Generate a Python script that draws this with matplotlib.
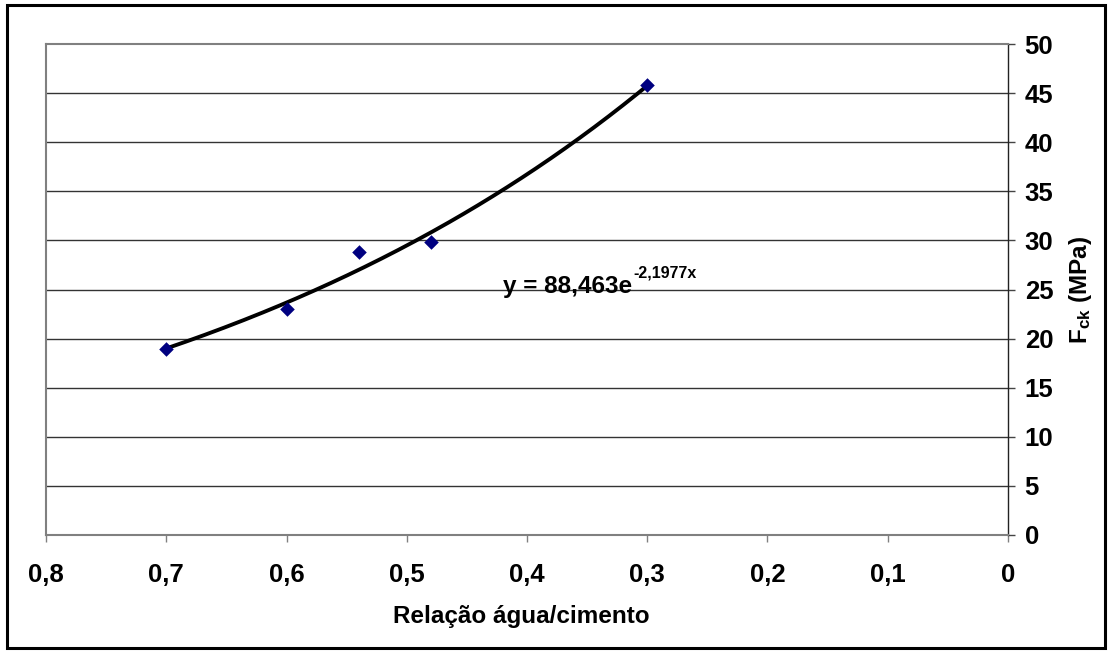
import numpy as np
import matplotlib
matplotlib.use("Agg")
import matplotlib.pyplot as plt
from matplotlib.patches import Rectangle

# Data
wc_ratio = [0.70, 0.60, 0.54, 0.48, 0.30]
fck = [18.9, 23.05, 28.8, 29.8, 45.8]
x_ticks = [0.8, 0.7, 0.6, 0.5, 0.4, 0.3, 0.2, 0.1, 0.0]
x_tick_labels = ["0,8", "0,7", "0,6", "0,5", "0,4", "0,3", "0,2", "0,1", "0"]
y_ticks = [0, 5, 10, 15, 20, 25, 30, 35, 40, 45, 50]
trend_a = 88.463
trend_b = -2.1977
trend_main = "y = 88,463e"
trend_exp = "-2,1977x"

plt.rcParams['font.family'] = ['Liberation Sans', 'DejaVu Sans']
plt.rcParams['font.weight'] = 'bold'
plt.rcParams['mathtext.fontset'] = 'custom'
plt.rcParams['mathtext.rm'] = 'Liberation Sans:bold'
plt.rcParams['mathtext.bf'] = 'Liberation Sans:bold'
plt.rcParams['mathtext.it'] = 'Liberation Sans:bold'

fig = plt.figure(figsize=(11.12, 6.55), dpi=100)
fig.patch.set_facecolor('white')
fig.patches.append(Rectangle((7/1112, 1-648/655), 1098/1112, 643/655,
                             transform=fig.transFigure, fill=False,
                             edgecolor='black', linewidth=2.2))

ax = fig.add_axes([46/1112, 1-535/655, 962/1112, 491/655])
ax.set_xlim(0.8, 0.0)
ax.set_ylim(0, 50)

for v in y_ticks[1:-1]:
    ax.axhline(v, color='#333333', linewidth=1.0, zorder=1)

# trendline
xt = np.linspace(max(wc_ratio), min(wc_ratio), 200)
ax.plot(xt, trend_a * np.exp(trend_b * xt), color='black', linewidth=2.8, zorder=3)

ax.scatter(wc_ratio, fck, marker='D', s=55, color='#000080', zorder=4, linewidths=0)

t_main = ax.text(0.42, 25.35, trend_main, fontsize=17.5, fontweight='bold',
                 va='center', ha='left', zorder=5)
fig.canvas.draw()
renderer = fig.canvas.get_renderer()
bb = t_main.get_window_extent(renderer=renderer)
inv = fig.transFigure.inverted()
x1, y1 = inv.transform((bb.x1 + 1, bb.y1 - 6))
fig.text(x1, y1, trend_exp, fontsize=11.5, fontweight='bold', ha='left', va='bottom', zorder=5)

ax.yaxis.tick_right()
ax.yaxis.set_label_position('right')
ax.set_yticks(y_ticks)
ax.set_yticklabels([str(v) for v in y_ticks], fontsize=18.5, fontweight='bold')
ax.set_xticks(x_ticks)
ax.set_xticklabels(x_tick_labels, fontsize=18.5, fontweight='bold')

ax.tick_params(axis='y', direction='out', length=5, width=1, color='#444444', pad=7)
ax.tick_params(axis='x', direction='out', length=5, width=1, color='#808080', pad=15)

for s in ['top', 'left', 'bottom']:
    ax.spines[s].set_color('#808080')
    ax.spines[s].set_linewidth(1.5)
ax.spines['right'].set_color('#222222')
ax.spines['right'].set_linewidth(1.0)

ax.set_xlabel('Relação água/cimento', fontsize=17.5, fontweight='bold')
ax.xaxis.set_label_coords((521 - 46) / 962, -0.166)
ax.xaxis.label.set_va('center')
ax.set_ylabel(r'F$_{\mathbf{ck}}$ (MPa)', fontsize=17.5, fontweight='bold', labelpad=10)

fig.savefig('out.png', dpi=100, facecolor='white')
